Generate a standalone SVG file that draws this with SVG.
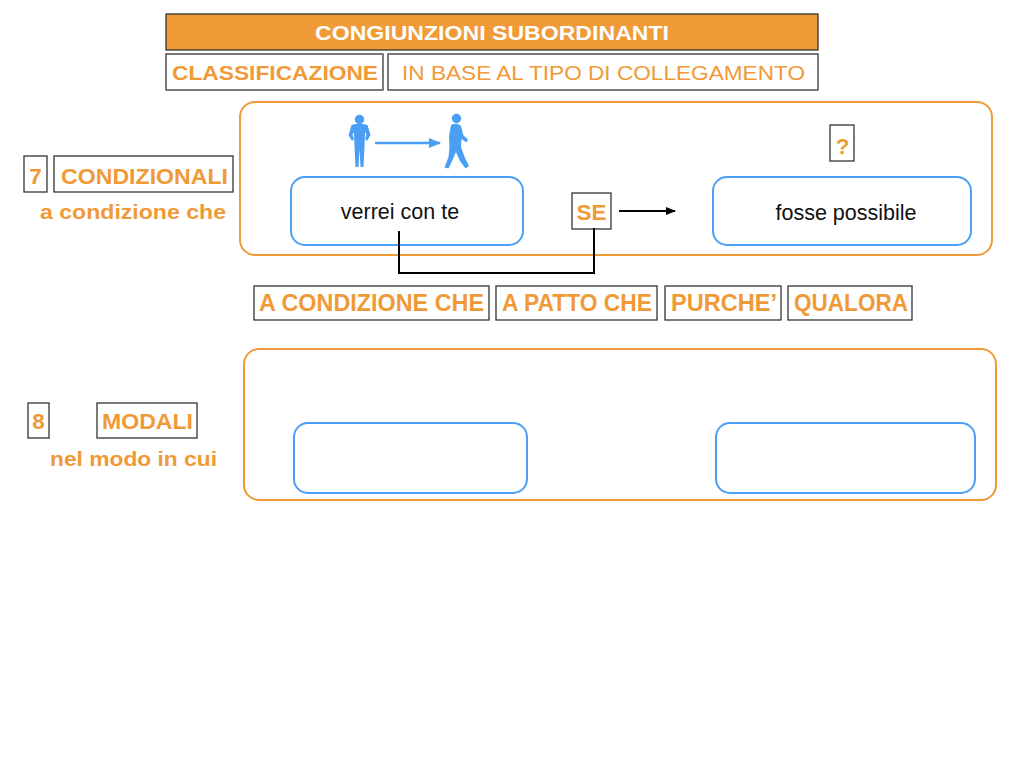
<svg xmlns="http://www.w3.org/2000/svg" width="1024" height="768" viewBox="0 0 1024 768">
<defs>
<style>
.box{fill:#fff;stroke:#333;stroke-width:1.3}
.ob{font-family:"Liberation Sans",Arial,sans-serif;font-weight:bold;fill:#F09A37}
.or{font-family:"Liberation Sans",Arial,sans-serif;fill:#F09A37}
.bk{font-family:"Liberation Sans",Arial,sans-serif;fill:#111;font-size:21.5px;text-anchor:middle}
.big{fill:none;stroke:#F09A37;stroke-width:2}
.blue{fill:#fff;stroke:#4A9FF5;stroke-width:2}
.fig{fill:#4A9FF5}
.conn{fill:none;stroke:#000;stroke-width:2}
</style>
<marker id="ab" markerWidth="10" markerHeight="8" refX="9" refY="4" orient="auto" markerUnits="userSpaceOnUse"><path d="M0,0 L10,4 L0,8 Z" fill="#000"/></marker>
<marker id="abl" markerWidth="12" markerHeight="10" refX="11" refY="5" orient="auto" markerUnits="userSpaceOnUse"><path d="M0,0 L12,5 L0,10 Z" fill="#4A9FF5"/></marker>
</defs>
<rect width="1024" height="768" fill="#fff"/>

<g id="title">
<rect x="166" y="14" width="652" height="36" fill="#F09A38" stroke="#333" stroke-width="1.3"/>
<text x="492" y="40" font-family="'Liberation Sans',Arial,sans-serif" font-weight="bold" font-size="21" fill="#fff" text-anchor="middle" textLength="354" lengthAdjust="spacingAndGlyphs">CONGIUNZIONI SUBORDINANTI</text>
</g>
<g id="classificazione">
<rect class="box" x="166" y="54" width="217" height="36"/>
<text class="ob" x="172" y="80" font-size="21" textLength="206" lengthAdjust="spacingAndGlyphs">CLASSIFICAZIONE</text>
</g>
<g id="tipo">
<rect class="box" x="388" y="54" width="430" height="36"/>
<text class="or" x="402" y="80" font-size="21" textLength="403" lengthAdjust="spacingAndGlyphs">IN BASE AL TIPO DI COLLEGAMENTO</text>
</g>

<g id="panel1"><rect class="big" x="240" y="102" width="752" height="153" rx="15"/></g>
<g id="panel2"><rect class="big" x="244" y="349" width="752" height="151" rx="15"/></g>

<g id="n7">
<rect class="box" x="24" y="156" width="23" height="36"/>
<text class="ob" x="35.5" y="184" font-size="22.5" text-anchor="middle">7</text>
</g>
<g id="condizionali">
<rect class="box" x="54" y="156" width="179" height="36"/>
<text class="ob" x="61" y="184" font-size="22.5" textLength="167" lengthAdjust="spacingAndGlyphs">CONDIZIONALI</text>
<text class="ob" x="40" y="219" font-size="21" textLength="186" lengthAdjust="spacingAndGlyphs">a condizione che</text>
</g>

<g id="figures">
<circle class="fig" cx="359.5" cy="119.5" r="4.7"/>
<path class="fig" d="M351.5,125 Q359.5,122.5 367.5,125 L370.5,135 L367,141 L365,139 L366.5,134.5 L365,132 L364.5,147 L363.5,167 L360.5,167 L359.5,149 L358.5,167 L355.5,167 L354.5,147 L354,132 L352.5,134.5 L354,139 L352,141 L348.5,135 Z"/>
<circle class="fig" cx="456.5" cy="118.5" r="4.7"/>
<path class="fig" d="M451,125 Q457,122 461,126 L463.5,135.5 L468,139.5 L466.5,142.5 L461.5,139 L461,147 L465,158 L469,166 L465.5,168.5 L460,161 L456,152 L452.5,160 L448.5,168.5 L444.5,167.5 L448.5,157 L449.5,147 L449,136 Z"/>
<line x1="375" y1="143" x2="440" y2="143" stroke="#4A9FF5" stroke-width="2.5" marker-end="url(#abl)"/>
</g>

<g id="verrei">
<rect class="blue" x="291" y="177" width="232" height="68" rx="14"/>
<text class="bk" x="400" y="219">verrei con te</text>
</g>
<g id="se">
<rect class="box" x="572" y="193" width="39" height="36"/>
<text class="ob" x="591.5" y="220" font-size="22.5" text-anchor="middle">SE</text>
</g>
<g id="fosse">
<rect class="blue" x="713" y="177" width="258" height="68" rx="14"/>
<text class="bk" x="846" y="220">fosse possibile</text>
</g>
<g id="question">
<rect class="box" x="830" y="125" width="24" height="36"/>
<text class="ob" x="842.5" y="154" font-size="22.5" text-anchor="middle">?</text>
</g>

<g id="connectors">
<line class="conn" x1="619" y1="211" x2="675" y2="211" marker-end="url(#ab)"/>
<polyline class="conn" points="399,231 399,273 594,273 594,228"/>
</g>

<g id="acondizione">
<rect class="box" x="254" y="286" width="235" height="34"/>
<text class="ob" x="259" y="311" font-size="23" textLength="225" lengthAdjust="spacingAndGlyphs">A CONDIZIONE CHE</text>
</g>
<g id="apatto">
<rect class="box" x="496" y="286" width="161" height="34"/>
<text class="ob" x="502" y="311" font-size="23" textLength="150" lengthAdjust="spacingAndGlyphs">A PATTO CHE</text>
</g>
<g id="purche">
<rect class="box" x="665" y="286" width="116" height="34"/>
<text class="ob" x="671" y="311" font-size="23" textLength="106" lengthAdjust="spacingAndGlyphs">PURCHE’</text>
</g>
<g id="qualora">
<rect class="box" x="788" y="286" width="124" height="34"/>
<text class="ob" x="794" y="311" font-size="23" textLength="114" lengthAdjust="spacingAndGlyphs">QUALORA</text>
</g>

<g id="n8">
<rect class="box" x="28" y="403" width="21" height="35"/>
<text class="ob" x="38.5" y="429" font-size="22.5" text-anchor="middle">8</text>
</g>
<g id="modali">
<rect class="box" x="97" y="403" width="100" height="35"/>
<text class="ob" x="102" y="429" font-size="22.5" textLength="91" lengthAdjust="spacingAndGlyphs">MODALI</text>
<text class="ob" x="50" y="466" font-size="21" textLength="167" lengthAdjust="spacingAndGlyphs">nel modo in cui</text>
</g>

<g id="empty1"><rect class="blue" x="294" y="423" width="233" height="70" rx="14"/></g>
<g id="empty2"><rect class="blue" x="716" y="423" width="259" height="70" rx="14"/></g>
</svg>
